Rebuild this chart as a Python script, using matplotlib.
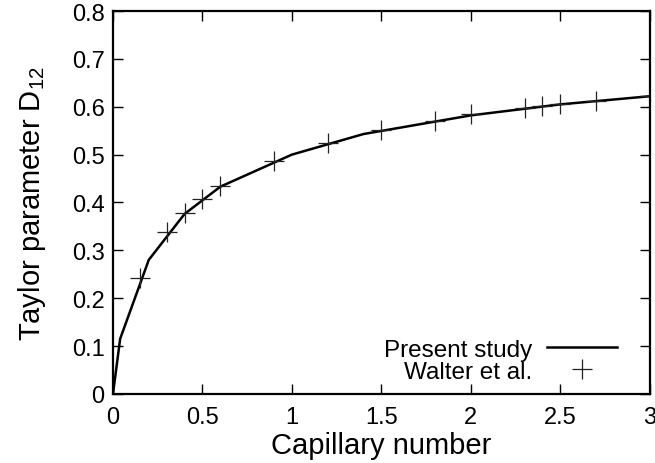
import matplotlib
matplotlib.use("Agg")
import matplotlib.pyplot as plt

# present study (solid line)
ca_present = [0.0, 0.04, 0.2, 0.4, 0.6, 1.0, 1.4, 2.0, 2.5, 3.0]
d_present = [0.0, 0.115, 0.28, 0.376, 0.433, 0.5, 0.543, 0.582, 0.605, 0.622]

# Walter et al. (plus markers)
ca_walter = [0.15, 0.3, 0.4, 0.5, 0.6, 0.9, 1.2, 1.5, 1.8, 2.0, 2.3, 2.4, 2.5, 2.7, 3.0]
d_walter = [0.242, 0.338, 0.377, 0.408, 0.434, 0.486, 0.524, 0.552, 0.571, 0.584,
            0.597, 0.601, 0.605, 0.612, 0.622]

xticks = [0, 0.5, 1, 1.5, 2, 2.5, 3]
xticklabels = ["0", "0.5", "1", "1.5", "2", "2.5", "3"]
yticks = [0, 0.1, 0.2, 0.3, 0.4, 0.5, 0.6, 0.7, 0.8]
yticklabels = ["0", "0.1", "0.2", "0.3", "0.4", "0.5", "0.6", "0.7", "0.8"]

plt.rcParams['font.family'] = ['Liberation Sans', 'DejaVu Sans']
plt.rcParams['mathtext.fontset'] = 'custom'
plt.rcParams['mathtext.rm'] = 'Liberation Sans'
plt.rcParams['mathtext.it'] = 'Liberation Sans'

fig = plt.figure(figsize=(6.55, 4.64), dpi=100)
ax = fig.add_axes([0.1725, 0.149, 0.8195, 0.825])

ax.plot(ca_present, d_present, color='black', lw=1.8, label='Present study')
ax.plot(ca_walter, d_walter, ls='none', marker='+', ms=14, mew=0.9,
        color='#222222', label='Walter et al.')

ax.set_xlim(0, 3)
ax.set_ylim(0, 0.8)
ax.set_xticks(xticks)
ax.set_xticklabels(xticklabels)
ax.set_yticks(yticks)
ax.set_yticklabels(yticklabels)
ax.tick_params(direction='in', length=7, width=1, top=True, right=True,
               labelsize=17, pad=6)
ax.tick_params(axis='x', pad=9)
for s in ax.spines.values():
    s.set_linewidth(1.6)

ax.set_xlabel('Capillary number', fontsize=21, labelpad=2)
ax.set_ylabel('Taylor parameter D$_{12}$', fontsize=21, labelpad=17)

ax.legend(loc='lower right', frameon=False, markerfirst=False, fontsize=17.5,
          handlelength=2.9, handletextpad=0.6, borderaxespad=0.05,
          labelspacing=0.0, bbox_to_anchor=(0.96, 0.0))

fig.savefig('out.png', dpi=100)
